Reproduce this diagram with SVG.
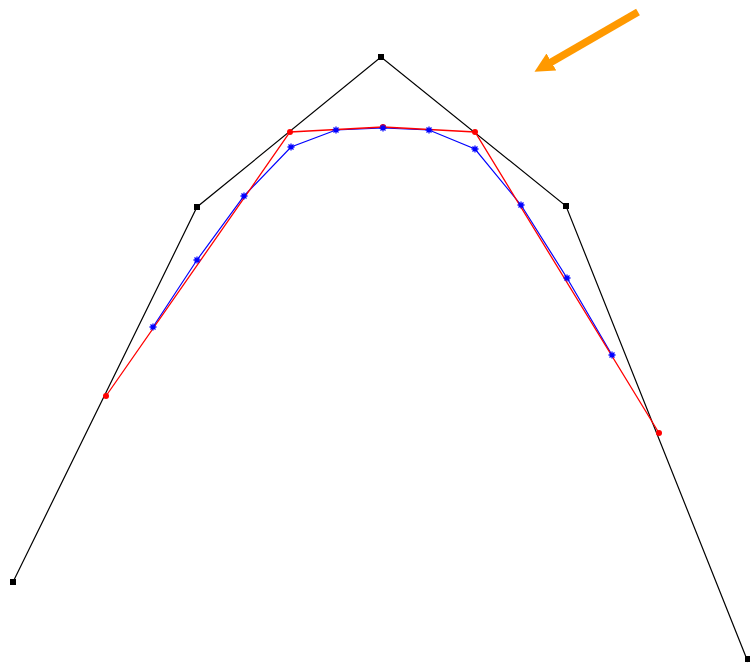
<svg xmlns="http://www.w3.org/2000/svg" width="750" height="664" viewBox="0 0 750 664">
<style>
.ctrl{fill:none;stroke:#000;stroke-width:1.2}
.red{fill:none;stroke:#f00;stroke-width:1.3}
.blue{fill:none;stroke:#00f;stroke-width:1.2}
.bm{fill:#000}
.rm{fill:#f00}
.star{stroke:#00f;stroke-width:1.3;fill:none}
</style>
<defs>
<marker id="ah" viewBox="0 0 10 10" refX="2" refY="5" markerWidth="2.6" markerHeight="2.8" orient="auto" markerUnits="strokeWidth">
<path d="M0,0 L10,5 L0,10 z" fill="#f90"/>
</marker>
<g id="st"><path class="star" d="M-3.5,0 H3.5 M0,-3.5 V3.5 M-2.5,-2.5 L2.5,2.5 M-2.5,2.5 L2.5,-2.5"/></g>
</defs>
<g id="connectors">
<polyline class="ctrl" points="13,582 197,207 381,57 566,206 748,662"/>
<polyline class="blue" points="153,327 197,260 244,196 291,147 336,130 383,128 429,130 475,149 521,205 567,278 612,355"/>
<polyline class="red" points="106,396 290,132 383,127 475,132 659,433"/>
<line x1="638" y1="12" x2="548" y2="64" stroke="#f90" stroke-width="7.5" marker-end="url(#ah)"/>
</g>
<g id="black-points">
<rect class="bm" x="10" y="579" width="6" height="6"/>
<rect class="bm" x="194" y="204" width="6" height="6"/>
<rect class="bm" x="378" y="54" width="6" height="6"/>
<rect class="bm" x="563" y="203" width="6" height="6"/>
<rect class="bm" x="745" y="656" width="6" height="6"/>
</g>
<g id="red-points">
<circle class="rm" cx="106" cy="396" r="3"/>
<circle class="rm" cx="290" cy="132" r="3"/>
<circle class="rm" cx="383" cy="127" r="3"/>
<circle class="rm" cx="475" cy="132" r="3"/>
<circle class="rm" cx="659" cy="433" r="3"/>
</g>
<g id="blue-points">
<use href="#st" x="153" y="327"/>
<use href="#st" x="197" y="260"/>
<use href="#st" x="244" y="196"/>
<use href="#st" x="291" y="147"/>
<use href="#st" x="336" y="130"/>
<use href="#st" x="383" y="128"/>
<use href="#st" x="429" y="130"/>
<use href="#st" x="475" y="149"/>
<use href="#st" x="521" y="205"/>
<use href="#st" x="567" y="278"/>
<use href="#st" x="612" y="355"/>
</g>
</svg>
